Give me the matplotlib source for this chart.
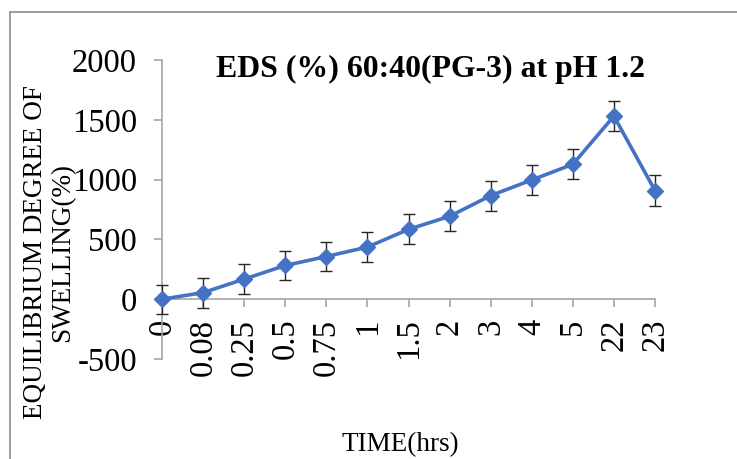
import matplotlib
matplotlib.use('Agg')
import matplotlib.pyplot as plt
from matplotlib.patches import Rectangle

# data
time_labels = ['0', '0.08', '0.25', '0.5', '0.75', '1', '1.5', '2', '3', '4', '5', '22', '23']
eds = [0, 55, 168, 282, 357, 436, 584, 693, 866, 997, 1128, 1531, 908]
err = [122, 125, 127, 125, 125, 125, 125, 125, 125, 125, 125, 127, 128]

plt.rcParams['font.family'] = ['Liberation Serif', 'DejaVu Serif']
plt.rcParams['axes.unicode_minus'] = False

fig = plt.figure(figsize=(7.37, 4.59), dpi=100)
ax = fig.add_axes([162 / 737, 1 - 359 / 459, 493 / 737, 299 / 459])

x = list(range(len(time_labels)))
eb = ax.errorbar(x, eds, yerr=err, color='#4472C4', lw=2.6, marker='D', ms=8.5,
                 ecolor='#262626', elinewidth=1.0, capsize=4, capthick=1.0, zorder=3)
for part in eb.get_children():
    part.set_clip_on(False)

ax.set_xlim(0, len(time_labels) - 1)
ax.set_ylim(-500, 2000)
ax.set_yticks([-500, 0, 500, 1000, 1500, 2000])
ax.set_xticks(x)
ax.set_xticklabels(time_labels)

for s in ['top', 'right']:
    ax.spines[s].set_visible(False)
ax.spines['bottom'].set_position(('data', 0))
for s in ['left', 'bottom']:
    ax.spines[s].set_color('#A6A6A6')
    ax.spines[s].set_linewidth(1.2)
ax.tick_params(axis='y', length=6, width=1.2, color='#A6A6A6', pad=12, labelsize=23.5)
ax.tick_params(axis='x', length=6, width=1.2, color='#A6A6A6', pad=8, labelsize=23.5,
               labelrotation=90)

fig.text(430 / 737, 1 - 77 / 459, 'EDS (%) 60:40(PG-3) at pH 1.2', fontsize=22.9,
         fontweight='bold', ha='center', va='baseline')
fig.text(49 / 737, 1 - 252 / 459, 'EQUILIBRIUM DEGREE OF\nSWELLING(%)', fontsize=19.5,
         rotation=90, ha='center', va='center', multialignment='center', linespacing=1.1)
fig.text(400 / 737, 1 - 451 / 459, 'TIME(hrs)', fontsize=19.5, ha='center', va='baseline')

# chart area border
fig.patches.append(Rectangle((10 / 737, -0.5), 2, 1.5 - 12 / 459, transform=fig.transFigure,
                             fill=False, edgecolor='#8C8C8C', lw=1.2))

fig.savefig('out.png', dpi=100)
